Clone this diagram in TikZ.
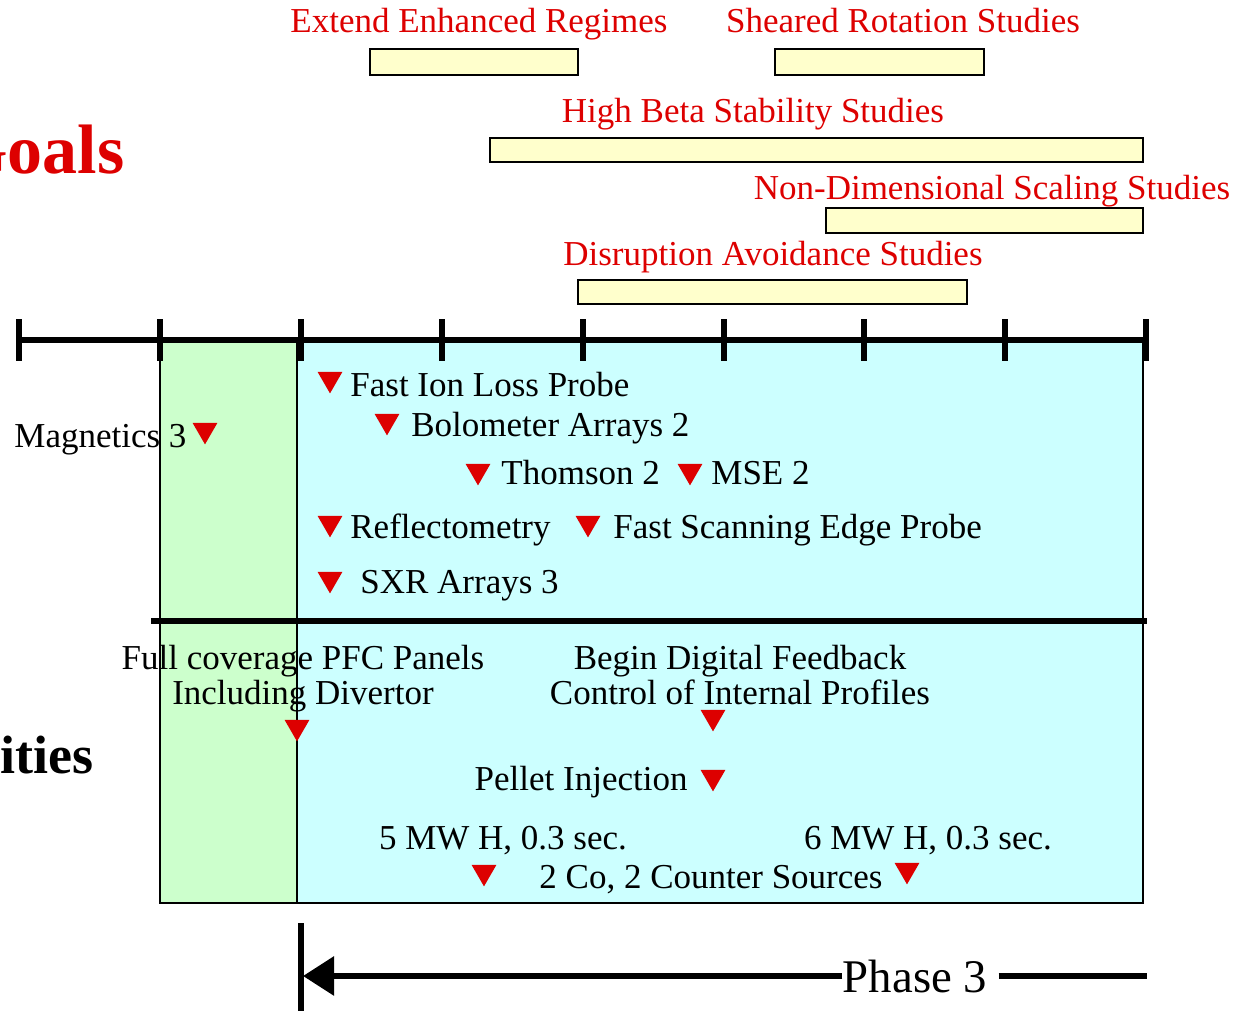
\documentclass[tikz,border=0pt]{standalone}
\usepackage{fontspec}
\setmainfont{Liberation Serif}
\usepackage{tikz}
\usetikzlibrary{arrows.meta}
\usetikzlibrary{shapes.geometric}
\definecolor{goal-red}{RGB}{221,0,0}
\definecolor{bar-yellow}{RGB}{255,255,204}
\definecolor{ph-green}{RGB}{204,255,204}
\definecolor{ph-cyan}{RGB}{204,255,255}
\begin{document}
\begin{tikzpicture}[x=0.5pt, y=-0.5pt,
            every node/.style={inner sep=0pt, font=\fontsize{17.5}{17.5}\selectfont},
            goal-label/.style={text=goal-red, anchor=base},
            goal-bar/.style={draw, line width=1.2pt, fill=bar-yellow},
            diag-tri/.style={regular polygon, regular polygon sides=3, regular polygon rotate=180, fill=goal-red, minimum size=14.4pt},
            diag-label/.style={anchor=base west},
            axis-line/.style={line width=3pt},
        ]
            \useasboundingbox (0,0) rectangle (1244,1011);
            \clip (0,0) rectangle (1244,1011);

            \draw[line width=1pt, fill=ph-green] (160,340) rectangle (297,903);
            \draw[line width=1pt, fill=ph-cyan] (297,340) rectangle (1143,903);
            \draw[axis-line] (151,621) -- (1147,621);

            \draw[axis-line] (18,340) -- (1148,340);
            \foreach \i in {0,...,8}
                \draw[axis-line] ({19+140.9*\i},319) -- ({19+140.9*\i},361);

            \node[text=goal-red, anchor=base east, font=\bfseries\fontsize{35}{35}\selectfont] (goals) at (125,174) {Goals};
            \node[anchor=base west, font=\bfseries\fontsize{27}{27}\selectfont] (facil) at (0,773) {ities};

            \node[goal-label] (extend) at (479,33) {Extend Enhanced Regimes};
            \node[goal-label] (sheared) at (903,33) {Sheared Rotation Studies};
            \node[goal-label] (beta) at (753,123) {High Beta Stability Studies};
            \node[goal-label] (nondim) at (992,199) {Non-Dimensional Scaling Studies};
            \node[goal-label] (disrupt) at (773,265) {Disruption Avoidance Studies};
            \draw[goal-bar] (370,49) rectangle (578,75);
            \draw[goal-bar] (775,49) rectangle (984,75);
            \draw[goal-bar] (490,138) rectangle (1143,162);
            \draw[goal-bar] (826,208) rectangle (1143,233);
            \draw[goal-bar] (578,280) rectangle (967,304);

            \node[diag-tri] (mag-tri) at (205,430) {};
            \node[diag-label] (mag) at (14,447) {Magnetics 3};
            \node[diag-tri] (fil-tri) at (330,379) {};
            \node[diag-label] (fil) at (350,396) {Fast Ion Loss Probe};
            \node[diag-tri] (bolo-tri) at (387,421) {};
            \node[diag-label] (bolo) at (411,437) {Bolometer Arrays 2};
            \node[diag-tri] (ts-tri) at (478,471) {};
            \node[diag-label] (ts) at (501,484) {Thomson 2};
            \node[diag-tri] (mse-tri) at (690,471) {};
            \node[diag-label] (mse) at (711,484) {MSE 2};
            \node[diag-tri] (refl-tri) at (330,523) {};
            \node[diag-label] (refl) at (350,538) {Reflectometry};
            \node[diag-tri] (fsep-tri) at (588,523) {};
            \node[diag-label] (fsep) at (613,538) {Fast Scanning Edge Probe};
            \node[diag-tri] (sxr-tri) at (330,579) {};
            \node[diag-label] (sxr) at (360,593) {SXR Arrays 3};

            \node[align=center, anchor=north] (pfc) at (303,645) {Full coverage PFC Panels\\Including Divertor};
            \node[diag-tri] (pfc-tri) at (297,727) {};
            \node[align=center, anchor=north] (dfb) at (740,645) {Begin Digital Feedback\\Control of Internal Profiles};
            \node[diag-tri] (dfb-tri) at (713,717) {};
            \node[anchor=base east] (pellet) at (688,790) {Pellet Injection};
            \node[diag-tri] (pellet-tri) at (713,777) {};
            \node[anchor=base] (nb5) at (503,849) {5 MW H, 0.3 sec.};
            \node[anchor=base] (nb6) at (928,849) {6 MW H, 0.3 sec.};
            \node[anchor=base] (nbsrc) at (711,888) {2 Co, 2 Counter Sources};
            \node[diag-tri] (nb5-tri) at (484,872) {};
            \node[diag-tri] (nb6-tri) at (907,870) {};

            \node[anchor=base, font=\fontsize{23.4}{23.4}\selectfont] (phase) at (915,992) {Phase 3};
            \coordinate (phase-start) at (303,975);
            \coordinate (phase-end) at (1147,975);
            \draw[axis-line] (301,923) -- (301,1011);
            \draw[axis-line, -{Triangle[length=15.5pt, width=19pt]}] (phase.west) -- (phase-start |- phase.west);
            \draw[axis-line] ([xshift=5.5pt]phase.east) -- (phase-end |- phase.east);
        \end{tikzpicture}
\end{document}
